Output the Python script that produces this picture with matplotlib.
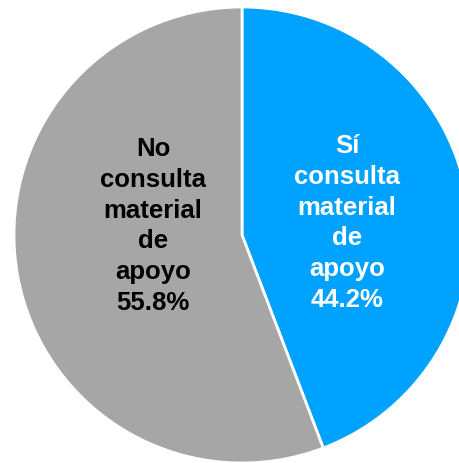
import matplotlib
matplotlib.use("Agg")
import matplotlib.pyplot as plt

categories = ["Sí\nconsulta\nmaterial\nde\napoyo", "No\nconsulta\nmaterial\nde\napoyo"]
values = [44.2, 55.8]
colors = ["#00A2FF", "#A6A6A6"]
text_colors = ["white", "black"]

W, H = 459, 464
fig = plt.figure(figsize=(W / 100, H / 100), dpi=100)
ax = fig.add_axes([0, 0, 1, 1])

cx, cy, r = 242, H - 236, 228
wedges, _ = ax.pie(values, colors=colors, startangle=90, counterclock=False,
                   center=(cx, cy), radius=r, frame=True,
                   wedgeprops=dict(edgecolor="white", linewidth=2))
ax.set_xlim(0, W)
ax.set_ylim(0, H)
ax.set_aspect("equal")
ax.axis("off")

label_pos = [(347, H - 223), (153, H - 226)]
for cat, v, tc, (x, y) in zip(categories, values, text_colors, label_pos):
    ax.text(x, y, f"{cat}\n{v:.1f}%", ha="center", va="center", color=tc,
            fontsize=18.5, fontweight="bold", family="Liberation Sans",
            linespacing=1.36)

fig.savefig("out.png", dpi=100)
